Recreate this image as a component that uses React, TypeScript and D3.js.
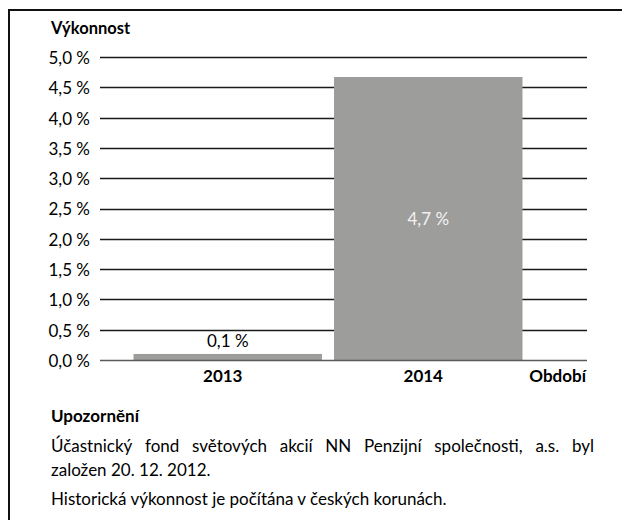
import React, { useEffect, useRef } from "react";
import * as d3 from "d3";

const categories = ["2013", "2014"];
const values = [0.1, 4.67];
const yTicks = [0, 0.5, 1, 1.5, 2, 2.5, 3, 3.5, 4, 4.5, 5];
const title = "Výkonnost";
const xAxisTitle = "Období";
const noteTitle = "Upozornění";
const noteLine1 = "Účastnický fond světových akcií NN Penzijní společnosti, a.s. byl";
const noteLine2 = "založen 20. 12. 2012.";
const noteLine3 = "Historická výkonnost je počítána v českých korunách.";

const W = 622;
const H = 520;
const FONT = "Lato, 'Open Sans', sans-serif";
const FS = 17;

const fmt = (v: number) => d3.format(".1f")(v).replace(".", ",") + " %";

export default function App() {
  const ref = useRef<SVGSVGElement | null>(null);

  useEffect(() => {
    const svg = d3.select(ref.current);
    svg.selectAll("*").remove();

    svg.append("rect").attr("width", W).attr("height", H).attr("fill", "#fff");
    // frame (extends past the right/bottom edges)
    svg
      .append("rect")
      .attr("x", 9)
      .attr("y", 10)
      .attr("width", W + 20)
      .attr("height", H + 20)
      .attr("fill", "none")
      .attr("stroke", "#111")
      .attr("stroke-width", 2);

    const y = d3.scaleLinear().domain([0, 5]).range([360, 57]);
    const x = d3
      .scaleBand<string>()
      .domain(categories)
      .range([127.5, 528.5])
      .paddingInner(0.06)
      .paddingOuter(0.03);

    const gridX0 = 100;
    const gridX1 = 587;

    svg
      .append("text")
      .attr("x", 51)
      .attr("y", 34)
      .attr("font-family", FONT)
      .attr("font-weight", "bold")
      .attr("font-size", 16.5)
      .attr("fill", "#000")
      .text(title);

    // grid lines
    svg
      .append("g")
      .selectAll("line")
      .data(yTicks.filter((t) => t > 0))
      .join("line")
      .attr("x1", gridX0)
      .attr("x2", gridX1)
      .attr("y1", (d) => Math.round(y(d)) + 0.5)
      .attr("y2", (d) => Math.round(y(d)) + 0.5)
      .attr("stroke", "#1a1a1a")
      .attr("stroke-width", 1.6);

    // tick labels
    svg
      .append("g")
      .selectAll("text")
      .data(yTicks)
      .join("text")
      .attr("x", 90)
      .attr("y", (d) => y(d) + 1)
      .attr("dy", "0.35em")
      .attr("text-anchor", "end")
      .attr("font-family", FONT)
      .attr("font-size", FS)
      .attr("fill", "#000")
      .text((d) => fmt(d));

    // bars
    svg
      .append("g")
      .selectAll("rect")
      .data(values)
      .join("rect")
      .attr("x", (_d, i) => x(categories[i])!)
      .attr("width", x.bandwidth())
      .attr("y", (d) => y(d))
      .attr("height", (d) => y(0) - y(d))
      .attr("fill", "#9d9d9b");

    // zero axis
    svg
      .append("line")
      .attr("x1", gridX0)
      .attr("x2", gridX1)
      .attr("y1", y(0) + 0.5)
      .attr("y2", y(0) + 0.5)
      .attr("stroke", "#5a5a5a")
      .attr("stroke-width", 1.6);

    // value labels
    values.forEach((v, i) => {
      const cx = x(categories[i])! + x.bandwidth() / 2;
      const inside = y(0) - y(v) > 30;
      svg
        .append("text")
        .attr("x", cx)
        .attr("y", inside ? (y(v) + y(0)) / 2 + 1 : y(v) - 13)
        .attr("dy", "0.35em")
        .attr("text-anchor", "middle")
        .attr("font-family", FONT)
        .attr("font-size", FS)
        .attr("fill", inside ? "#f2f2f2" : "#000")
        .text(fmt(v));
    });

    // category labels
    svg
      .append("g")
      .selectAll("text")
      .data(categories)
      .join("text")
      .attr("x", (d) => x(d)! + x.bandwidth() / 2 - 5)
      .attr("y", 382)
      .attr("text-anchor", "middle")
      .attr("font-family", FONT)
      .attr("font-weight", "bold")
      .attr("font-size", FS)
      .attr("fill", "#000")
      .text((d) => d);

    svg
      .append("text")
      .attr("x", gridX1 - 1)
      .attr("y", 382)
      .attr("text-anchor", "end")
      .attr("font-family", FONT)
      .attr("font-weight", "bold")
      .attr("font-size", FS)
      .attr("fill", "#000")
      .text(xAxisTitle);

    // notes
    svg
      .append("text")
      .attr("x", 51)
      .attr("y", 422)
      .attr("font-family", FONT)
      .attr("font-weight", "bold")
      .attr("font-size", FS)
      .attr("fill", "#000")
      .text(noteTitle);

    // justified line
    const words = noteLine1.split(" ");
    const g = svg.append("g");
    const nodes = words.map((w) =>
      g
        .append("text")
        .attr("y", 452)
        .attr("font-family", FONT)
        .attr("font-size", FS)
        .attr("fill", "#000")
        .text(w)
    );
    const widths = nodes.map((n) => (n.node() as SVGTextElement).getComputedTextLength());
    const total = d3.sum(widths);
    const left = 51;
    const right = 594;
    const gap = (right - left - total) / (words.length - 1);
    let cur = left;
    nodes.forEach((n, i) => {
      n.attr("x", cur);
      cur += widths[i] + gap;
    });

    [
      [noteLine2, 476],
      [noteLine3, 505],
    ].forEach(([t, yy]) => {
      svg
        .append("text")
        .attr("x", 51)
        .attr("y", yy as number)
        .attr("font-family", FONT)
        .attr("font-size", FS)
        .attr("fill", "#000")
        .text(t as string);
    });
  }, []);

  return (
    <svg
      ref={ref}
      width={W}
      height={H}
      style={{ position: "absolute", left: 0, top: 0, display: "block" }}
    />
  );
}
